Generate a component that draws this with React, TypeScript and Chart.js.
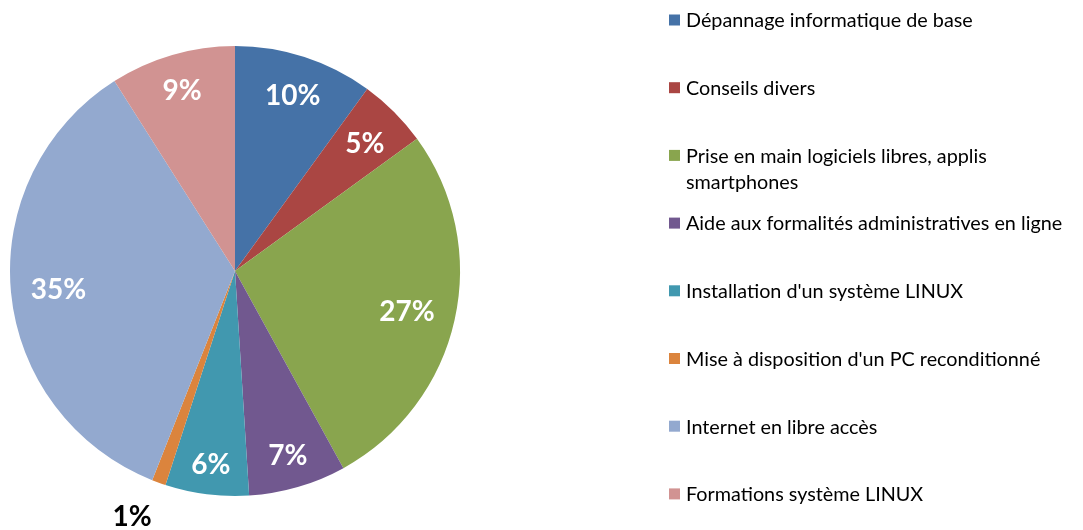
import React, { useEffect, useRef } from "react";
import { Chart, registerables } from "chart.js";

Chart.register(...registerables);

const categories: string[][] = [
  ["Dépannage informatique de base"],
  ["Conseils divers"],
  ["Prise en main logiciels libres, applis", "smartphones"],
  ["Aide aux formalités administratives en ligne"],
  ["Installation d'un système LINUX"],
  ["Mise à disposition d'un PC reconditionné"],
  ["Internet en libre accès"],
  ["Formations système LINUX"],
];
const values: number[] = [10, 5, 27, 7, 6, 1, 35, 9];
const percentLabels: string[] = ["10%", "5%", "27%", "7%", "6%", "1%", "35%", "9%"];
const colors: string[] = [
  "#4572A7",
  "#AA4643",
  "#89A54E",
  "#71588F",
  "#4198AF",
  "#DB843D",
  "#93A9CF",
  "#D19392",
];

const FONT = "Lato, 'Open Sans', sans-serif";

const sliceLabelPlugin = {
  id: "sliceLabels",
  afterDatasetsDraw(chart: any) {
    const ctx = chart.ctx;
    const meta = chart.getDatasetMeta(0);
    ctx.save();
    ctx.font = `bold 28px ${FONT}`;
    ctx.textAlign = "center";
    ctx.textBaseline = "middle";
    meta.data.forEach((arc: any, i: number) => {
      const { x, y, startAngle, endAngle, outerRadius } = arc.getProps(
        ["x", "y", "startAngle", "endAngle", "outerRadius"],
        true
      );
      const mid = (startAngle + endAngle) / 2;
      const small = values[i] < 3;
      const halfW = ctx.measureText(percentLabels[i]).width / 2 + 2;
      const halfH = 13;
      let r: number;
      if (small) {
        r = outerRadius + 42;
      } else {
        const extent = Math.abs(halfW * Math.cos(mid)) + Math.abs(halfH * Math.sin(mid));
        r = outerRadius * 0.925 - extent;
      }
      const a = small ? mid + 0.05 : mid;
      const lx = x + Math.cos(a) * r;
      const ly = y + Math.sin(a) * r + (small ? 0 : 2.5);
      ctx.fillStyle = small ? "#000000" : "#FFFFFF";
      ctx.fillText(percentLabels[i], lx, ly);
    });
    ctx.restore();
  },
};

const legendPlugin = {
  id: "customLegend",
  afterDraw(chart: any) {
    const ctx = chart.ctx;
    ctx.save();
    ctx.font = `19.8px ${FONT}`;
    ctx.textAlign = "left";
    ctx.textBaseline = "middle";
    const boxX = 669;
    const textX = 686;
    const startY = 20;
    const step = 67.7;
    const lineH = 26;
    categories.forEach((lines, i) => {
      const y = startY + i * step;
      ctx.fillStyle = colors[i];
      ctx.fillRect(boxX, y - 5.5, 11, 11);
      ctx.fillStyle = "#000000";
      lines.forEach((t, j) => ctx.fillText(t, textX, y + j * lineH + 1));
    });
    ctx.restore();
  },
};

export default function App() {
  const ref = useRef<HTMLCanvasElement | null>(null);
  useEffect(() => {
    if (!ref.current) return;
    const chart = new Chart(ref.current, {
      type: "pie",
      data: {
        labels: categories.map((l) => l.join(" ")),
        datasets: [
          {
            data: values,
            backgroundColor: colors,
            borderWidth: 0,
          },
        ],
      },
      options: {
        responsive: false,
        animation: false,
        layout: { padding: { left: 10, top: 46, right: 623, bottom: 34 } },
        plugins: {
          legend: { display: false },
          tooltip: { enabled: false },
        },
      },
      plugins: [sliceLabelPlugin, legendPlugin],
    });
    return () => chart.destroy();
  }, []);
  return (
    <div style={{ position: "fixed", left: 0, top: 0, width: 1083, height: 530, background: "#fff" }}>
      <canvas ref={ref} width={1083} height={530} />
    </div>
  );
}
